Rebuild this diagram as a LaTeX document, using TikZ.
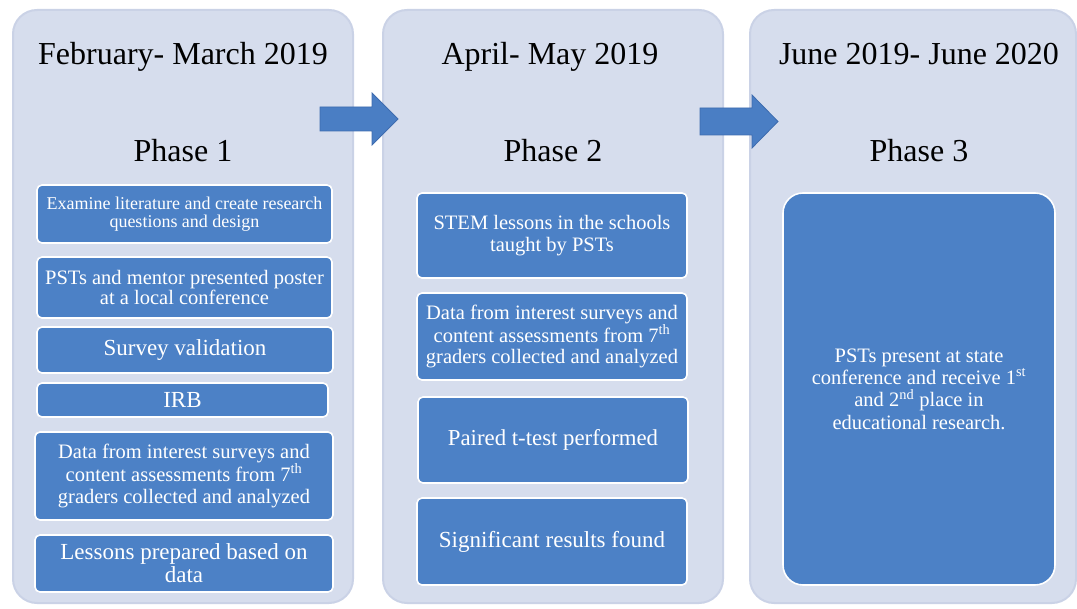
\documentclass[tikz,border=0pt]{standalone}
\usepackage{fontspec}
\setmainfont{Liberation Serif}
\definecolor{panelfill}{RGB}{214,221,237}
\definecolor{paneledge}{RGB}{202,210,230}
\definecolor{boxblue}{RGB}{76,129,198}
\definecolor{arrowblue}{RGB}{74,126,196}
\definecolor{arrowedge}{RGB}{62,108,175}
\begin{document}
\begin{tikzpicture}[x=1pt,y=-1pt,
  panel/.style={fill=panelfill, draw=paneledge, line width=2pt, rounded corners=24pt, inner sep=0pt},
  bluebox/.style={fill=boxblue, draw=white, line width=1.6pt, rounded corners=5pt, text=white, align=center, inner sep=0pt},
  titletext/.style={font=\fontsize{32}{36}\selectfont, text=black, anchor=base, inner sep=0pt},
  blockarrow/.style={fill=arrowblue, draw=arrowedge, line width=0.8pt},
]
\useasboundingbox (0,0) rectangle (1077,609);
% panels
\node[panel, minimum width=340pt, minimum height=593pt] (p1) at (183,306.5) {};
\node[panel, minimum width=340pt, minimum height=593pt] (p2) at (553,306.5) {};
\node[panel, minimum width=326pt, minimum height=593pt] (p3) at (913,306.5) {};
% titles
\node[titletext] (t1) at (183,65) {February- March 2019};
\node[titletext] (t2) at (550,65) {April- May 2019};
\node[titletext] (t3) at (919,65) {June 2019- June 2020};
\node[titletext] (ph1) at (183,162) {Phase 1};
\node[titletext] (ph2) at (553,162) {Phase 2};
\node[titletext] (ph3) at (919,162) {Phase 3};
% phase 1 boxes
\node[bluebox, minimum width=295pt, minimum height=58pt, font=\fontsize{18}{18.5}\selectfont] (b1) at (184.5,214) {Examine literature and create research\\questions and design};
\node[bluebox, minimum width=295pt, minimum height=61pt, font=\fontsize{20.5}{20.5}\selectfont] (b2) at (184.5,287.5) {PSTs and mentor presented poster\\at a local conference};
\node[bluebox, minimum width=296pt, minimum height=46pt, font=\fontsize{23}{23}\selectfont] (b3) at (185,350) {Survey validation};
\node[bluebox, minimum width=291pt, minimum height=34pt, font=\fontsize{23}{23}\selectfont] (b4) at (182.5,400) {IRB};
\node[bluebox, minimum width=298pt, minimum height=88pt, font=\fontsize{20.5}{22.5}\selectfont] (b5) at (184,476) {Data from interest surveys and\\content assessments from 7\textsuperscript{th}\\graders collected and analyzed};
\node[bluebox, minimum width=298pt, minimum height=57pt, font=\fontsize{23}{23}\selectfont] (b6) at (184,563.5) {Lessons prepared based on\\data};
% phase 2 boxes
\node[bluebox, minimum width=270pt, minimum height=85pt, font=\fontsize{20.5}{21.5}\selectfont] (bA) at (552,235.5) {STEM lessons in the schools\\taught by PSTs};
\node[bluebox, minimum width=270pt, minimum height=87pt, font=\fontsize{20.5}{21.5}\selectfont] (bB) at (552,336.5) {Data from interest surveys and\\content assessments from 7\textsuperscript{th}\\graders collected and analyzed};
\node[bluebox, minimum width=270pt, minimum height=86pt, font=\fontsize{22.8}{23}\selectfont] (bC) at (553,440) {Paired t-test performed};
\node[bluebox, minimum width=270pt, minimum height=87pt, font=\fontsize{23}{23}\selectfont] (bD) at (552,541.5) {Significant results found};
% phase 3 box
\node[bluebox, rounded corners=20pt, minimum width=272pt, minimum height=392pt, font=\fontsize{20.5}{22.3}\selectfont] (bP3) at (919,389) {PSTs present at state\\conference and receive 1\textsuperscript{st}\\and 2\textsuperscript{nd} place in\\educational research.};
% block arrows
\draw[blockarrow] (320,107) -- (372,107) -- (372,93) -- (398,119) -- (372,145) -- (372,131) -- (320,131) -- cycle;
\draw[blockarrow] (700,108) -- (752,108) -- (752,95) -- (778,121.5) -- (752,148) -- (752,135) -- (700,135) -- cycle;
\end{tikzpicture}
\end{document}
